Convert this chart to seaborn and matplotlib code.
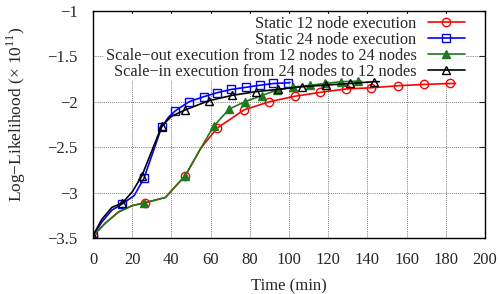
import numpy as np
import pandas as pd
import seaborn as sns
import matplotlib.pyplot as plt

# marked points (time in min, log-likelihood x 1e11)
t_s12 = [0, 26.5, 47, 63.3, 77, 90, 103, 116, 129, 142, 155.5, 169, 182]
ll_s12 = [-3.47, -3.11, -2.815, -2.29, -2.09, -2.0, -1.94, -1.897, -1.86, -1.847, -1.825, -1.81, -1.80]
t_s24 = [0, 15, 26, 35, 42, 49, 56.5, 63.5, 70.5, 78, 85, 92, 99.5]
ll_s24 = [-3.47, -3.12, -2.84, -2.28, -2.10, -2.0, -1.945, -1.90, -1.865, -1.842, -1.82, -1.80, -1.793]
t_out = [0, 26, 47, 61.5, 69.5, 77.5, 86, 94, 102, 110.5, 118.5, 126.7, 135.3]
ll_out = [-3.47, -3.11, -2.815, -2.27, -2.08, -2.0, -1.934, -1.87, -1.84, -1.82, -1.80, -1.78, -1.775]
t_in = [0, 15, 25, 35, 47, 59, 71, 83, 94.5, 106.5, 119, 131, 143.5]
ll_in = [-3.47, -3.11, -2.81, -2.27, -2.09, -1.99, -1.93, -1.89, -1.864, -1.836, -1.817, -1.80, -1.78]

# extra points on the curves between the marks
ct_s12 = [6.4, 13, 20, 37, 42, 55, 185]
cll_s12 = [-3.33, -3.21, -3.14, -3.05, -2.93, -2.51, -1.80]
ct_s24 = [4.5, 9.6, 21, 38.5, 100.5]
cll_s24 = [-3.32, -3.19, -3.03, -2.17, -1.79]
ct_out = [6.4, 13, 20, 37, 42, 55, 137]
cll_out = [-3.33, -3.21, -3.14, -3.05, -2.93, -2.51, -1.775]
ct_in = [4.5, 9.6, 20, 40, 146]
cll_in = [-3.29, -3.16, -2.99, -2.16, -1.78]

labels = ['Static 12 node execution', 'Static 24 node execution',
          'Scale\u2212out execution from 12 nodes to 24 nodes',
          'Scale\u2212in execution from 24 nodes to 12 nodes']

sns.set_style('white')
plt.rcParams['font.family'] = ['Liberation Serif', 'DejaVu Serif']
plt.rcParams['mathtext.fontset'] = 'custom'
plt.rcParams['mathtext.rm'] = 'Liberation Serif'
plt.rcParams['font.size'] = 12

fig, ax = plt.subplots(figsize=(5, 2.94), dpi=100)
fig.subplots_adjust(left=0.186, right=0.97, top=0.964, bottom=0.189)

series = [
    (t_s12, ll_s12, ct_s12, cll_s12, 'red', 'o', 'none'),
    (t_s24, ll_s24, ct_s24, cll_s24, 'blue', 's', 'none'),
    (t_out, ll_out, ct_out, cll_out, '#1f7a1f', '^', '#1f7a1f'),
    (t_in, ll_in, ct_in, cll_in, 'black', '^', 'none'),
]

for (t, ll, ct, cll, col, mk, fc), lab in zip(series, labels):
    df = pd.DataFrame({'t': t + ct, 'll': ll + cll, 'mark': [True] * len(t) + [False] * len(ct)})
    df = df.sort_values('t').reset_index(drop=True)
    idx = list(df.index[df['mark']])
    sns.lineplot(data=df, x='t', y='ll', ax=ax, color=col, lw=1.2, marker=mk,
                 markersize=6, markerfacecolor=fc, markeredgecolor=col, markeredgewidth=1.0,
                 markevery=idx, label=lab, sort=False, estimator=None)

ax.set_xlim(0, 200)
ax.set_ylim(-3.5, -1)
ax.set_xticks(np.arange(0, 201, 20))
ax.set_yticks([-3.5, -3, -2.5, -2, -1.5, -1])
ax.set_yticklabels(['\u22123.5', '\u22123', '\u22122.5', '\u22122', '\u22121.5', '\u22121'])
ax.tick_params(direction='in', top=True, right=True, length=4, width=0.8, labelsize=12)
ax.tick_params(axis='x', pad=10)
ax.tick_params(axis='y', pad=11)
ax.set_axisbelow(True)
ax.grid(True, color='0.3', linestyle=(0, (1, 1.5)), linewidth=0.6)
for s in ax.spines.values():
    s.set_color('black')
    s.set_linewidth(1.0)
ax.set_xlabel('Time (min)', fontsize=12, labelpad=7)
ax.set_ylabel('Log\u2212Likelihood (\u00d7 10$^{11}$)', fontsize=12.5)
ax.yaxis.set_label_coords(-0.166, 0.546)

leg = ax.legend(loc='upper right', bbox_to_anchor=(0.952, 0.985), markerfirst=False,
                frameon=True, fancybox=False, edgecolor='none', facecolor='white', framealpha=1,
                fontsize=11.7, labelspacing=0.0, handlelength=2.25, handletextpad=0.7,
                borderpad=0.1, borderaxespad=0)
# keep the legend box over the grid but under the curves
leg.set_zorder(1.5)

fig.savefig('out.png', dpi=100)
